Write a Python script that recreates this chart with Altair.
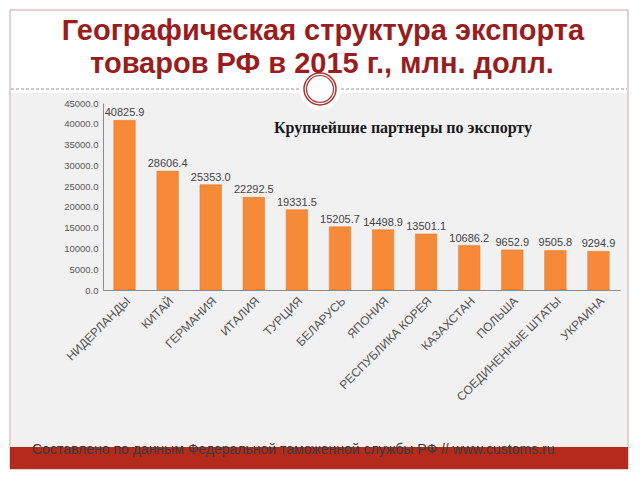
import altair as alt
import pandas as pd

countries = ["НИДЕРЛАНДЫ", "КИТАЙ", "ГЕРМАНИЯ", "ИТАЛИЯ", "ТУРЦИЯ", "БЕЛАРУСЬ",
             "ЯПОНИЯ", "РЕСПУБЛИКА КОРЕЯ", "КАЗАХСТАН", "ПОЛЬША",
             "СОЕДИНЕННЫЕ ШТАТЫ", "УКРАИНА"]
values = [40825.9, 28606.4, 25353.0, 22292.5, 19331.5, 15205.7,
          14498.9, 13501.1, 10686.2, 9652.9, 9505.8, 9294.9]
y_ticks = [0, 5000, 10000, 15000, 20000, 25000, 30000, 35000, 40000, 45000]

title_line1 = "Географическая структура экспорта"
title_line2 = "товаров РФ в 2015 г., млн. долл."
subtitle = "Крупнейшие партнеры по экспорту"
footer = "Составлено по данным Федеральной таможенной службы РФ // www.customs.ru"

df = pd.DataFrame({"country": countries, "value": values})

PL, PT = 103, 103
W, H = 517, 187


def px(x):
    return x - PL


def py(y):
    return y - PT


def one():
    return alt.Data(values=[{"a": 1}])


slide = alt.Chart(one()).mark_rect(fill="white", stroke="#caa3a3", strokeWidth=1).encode(
    x=alt.value(px(10)), x2=alt.value(px(628)), y=alt.value(py(10)), y2=alt.value(py(469)))
panel = alt.Chart(one()).mark_rect(fill="#f1f1f1").encode(
    x=alt.value(px(11)), x2=alt.value(px(627)), y=alt.value(py(93)), y2=alt.value(py(447)))
dash = alt.Chart(one()).mark_rule(color="#9a9a9a", strokeDash=[3, 2], strokeWidth=1).encode(
    x=alt.value(px(11)), x2=alt.value(px(627)), y=alt.value(py(89)))
halo = alt.Chart(one()).mark_point(shape="circle", filled=True, color="white", opacity=1, size=42 * 42).encode(
    x=alt.value(px(320)), y=alt.value(py(89)))
ring_out = alt.Chart(one()).mark_point(shape="circle", filled=False, color="#a8332f", opacity=1,
                                       strokeWidth=1.5, size=32 * 32).encode(
    x=alt.value(px(320)), y=alt.value(py(89)))
ring_in = alt.Chart(one()).mark_point(shape="circle", filled=False, color="#a8332f", opacity=1,
                                      strokeWidth=1.2, size=27 * 27).encode(
    x=alt.value(px(320)), y=alt.value(py(89)))
redbar = alt.Chart(one()).mark_rect(fill="#b42a1c").encode(
    x=alt.value(px(10)), x2=alt.value(px(628)), y=alt.value(py(447)), y2=alt.value(py(469)))
foot = alt.Chart(one()).mark_text(text=footer, align="left", baseline="middle", fontSize=14,
                                  font="Liberation Sans", color="#3a3a3a").encode(
    x=alt.value(px(32)), y=alt.value(py(450)))
t1 = alt.Chart(one()).mark_text(text=title_line1, align="center", baseline="alphabetic", fontSize=29,
                                fontWeight="bold", font="Liberation Sans", color="#9a1d1d").encode(
    x=alt.value(px(323)), y=alt.value(py(40)))
t2 = alt.Chart(one()).mark_text(text=title_line2, align="center", baseline="alphabetic", fontSize=29,
                                fontWeight="bold", font="Liberation Sans", color="#9a1d1d").encode(
    x=alt.value(px(322)), y=alt.value(py(73)))
sub = alt.Chart(one()).mark_text(text=subtitle, align="center", baseline="middle", fontSize=16,
                                 fontWeight="bold", font="Liberation Serif", color="#1a1a1a").encode(
    x=alt.value(px(403)), y=alt.value(py(128)))

x_enc = alt.X("country:N", sort=countries, title=None,
              scale=alt.Scale(paddingInner=0.5, paddingOuter=0.25),
              axis=alt.Axis(labelAngle=-45, labelFontSize=12, labelColor="#555555",
                            labelFont="Liberation Sans", labelPadding=5, ticks=False,
                            domainColor="#8c8c8c", zindex=1, labelLimit=300, labelOverlap=False))
y_enc = alt.Y("value:Q", title=None, scale=alt.Scale(domain=[0, 45000], nice=False),
              axis=alt.Axis(values=y_ticks, format=".1f", labelFontSize=9.5, labelColor="#595959",
                            labelFont="Liberation Sans", labelPadding=5, ticks=False,
                            labelOverlap=False, labelFlush=False, labelSeparation=0,
                            domainColor="#8c8c8c", grid=False, zindex=1))

base = alt.Chart(df)
bars = base.mark_bar(color="#f68a38", stroke="#e37b2c", strokeWidth=0.5).encode(x=x_enc, y=y_enc)
labels = base.mark_text(dy=-2, baseline="bottom", fontSize=11, font="Liberation Sans",
                        color="#444444").encode(
    x=x_enc, y=y_enc,
    text=alt.Text("value:Q", format=".1f"))

chart = alt.layer(slide, panel, dash, halo, ring_out, ring_in, redbar, foot, t1, t2, sub,
                  bars, labels).properties(
    width=W, height=H, autosize="none",
    padding={"left": PL, "top": PT, "right": 640 - PL - W, "bottom": 480 - PT - H},
    background="white",
).configure_view(strokeWidth=0).configure_axis(grid=False).configure_axisY(labelOverlap=False)

chart.save("out.html", embed_options={"renderer": "svg", "actions": False})
